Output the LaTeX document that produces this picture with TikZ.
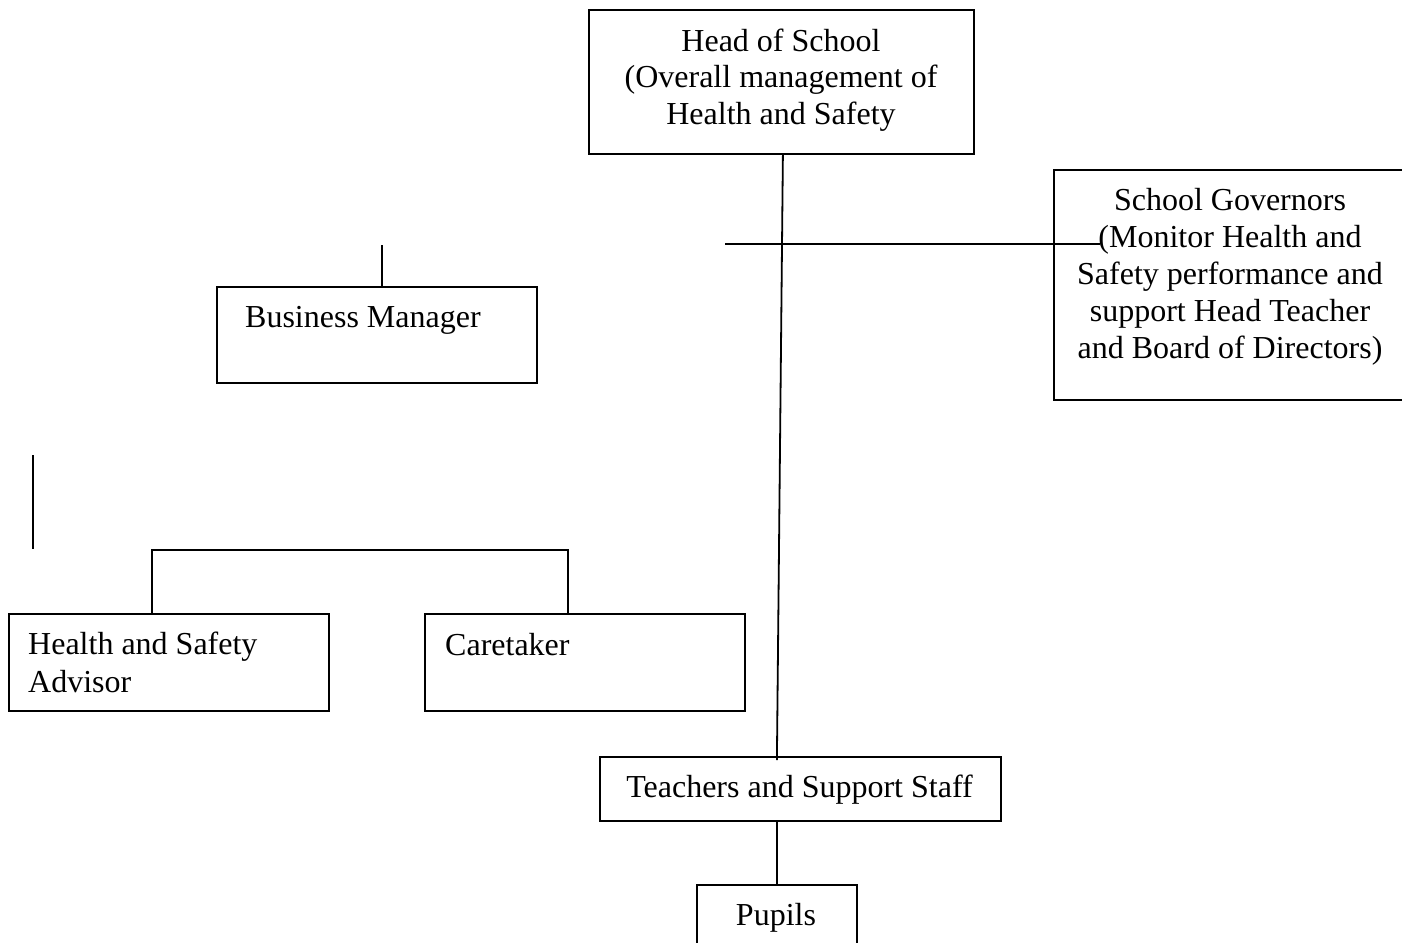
\documentclass[tikz,border=0pt]{standalone}
\usepackage{fontspec}
\setmainfont{Liberation Serif}
\usetikzlibrary{calc}
\begin{document}
\begin{tikzpicture}[x=1pt,y=-1pt,
  box/.style={draw,line width=1.8pt,inner sep=0pt,anchor=north west},
  txt/.style={inner sep=0pt,font=\fontsize{32}{37}\selectfont},
  conn/.style={line width=1.8pt}]
\clip (0,0) rectangle (1402,942);
\fill[white] (0,0) rectangle (1402,942);
% boxes
\node[box,minimum width=385pt,minimum height=144pt] (head) at (588,9) {};
\node[box,minimum width=370pt,minimum height=230pt] (gov) at (1053,169) {};
\node[box,minimum width=320pt,minimum height=96pt] (bm) at (216,286) {};
\node[box,minimum width=320pt,minimum height=97pt] (hsa) at (8,613) {};
\node[box,minimum width=320pt,minimum height=97pt] (care) at (424,613) {};
\node[box,minimum width=401pt,minimum height=64pt] (teach) at (599,756) {};
\node[box,minimum width=160pt,minimum height=80pt] (pup) at (696,884) {};
% texts
\node[txt,anchor=base] (t1) at (781,52) {Head of School};
\node[txt,anchor=base] (t2) at (781,88) {(Overall management of};
\node[txt,anchor=base] (t3) at (781,124) {Health and Safety};
\node[txt,anchor=base] (g1) at (1230,210) {School Governors};
\node[txt,anchor=base] (g2) at (1230,247) {(Monitor Health and};
\node[txt,anchor=base] (g3) at (1230,284) {Safety performance and};
\node[txt,anchor=base] (g4) at (1230,321) {support Head Teacher};
\node[txt,anchor=base] (g5) at (1230,358) {and Board of Directors)};
\node[txt,anchor=base west] (b1) at (245,327) {Business Manager};
\node[txt,anchor=base west] (h1) at (28,654) {Health and Safety};
\node[txt,anchor=base west] (h2) at (28,692) {Advisor};
\node[txt,anchor=base west] (c1) at (445,655) {Caretaker};
\node[txt,anchor=base] (s1) at (799.5,797) {Teachers and Support Staff};
\node[txt,anchor=base] (p1) at (776,925) {Pupils};
% connectors
\coordinate (vtop) at ($(head.south)+(1.5,0)$);
\coordinate (vbot) at ($(teach.north)+(-23.5,4)$);
\draw[conn] (vtop) -- (vbot);
\coordinate (gl) at (725,244);
\coordinate (gr) at (1100,244);
\draw[conn] (gl) -- (gr);
\coordinate (bmtop) at (382,245);
\draw[conn] (bmtop) -- (bmtop |- bm.north);
\coordinate (ls1) at (33,455);
\coordinate (ls2) at (33,549);
\draw[conn] (ls1) -- (ls2);
\coordinate (brl) at (152,550);
\coordinate (brr) at (568,550);
\draw[conn] (brl |- hsa.north) -- (brl) -- (brr) -- (brr |- care.north);
\draw[conn] (teach.south -| pup.north) -- (pup.north);
\end{tikzpicture}
\end{document}
